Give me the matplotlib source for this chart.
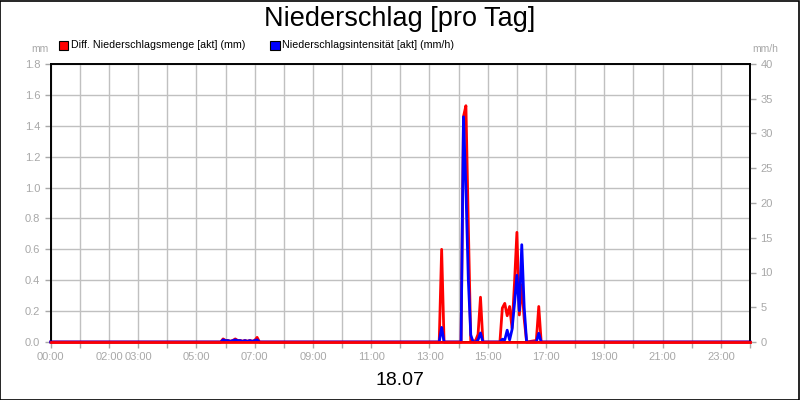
import matplotlib
matplotlib.use("Agg")
import matplotlib.pyplot as plt
from matplotlib.patches import Rectangle

# ---- data ----
title = "Niederschlag [pro Tag]"
date_label = "18.07"
series_names = ["Diff. Niederschlagsmenge [akt] (mm)", "Niederschlagsintensität [akt] (mm/h)"]
unit_left = "mm"
unit_right = "mm/h"

red_times = ["00:00", "05:50", "05:55", "06:00", "06:05", "06:10", "06:15", "06:20", "06:25",
             "06:30", "06:35", "06:40", "06:45", "06:50", "06:55", "07:00", "07:05", "07:10",
             "13:20", "13:25", "13:30",
             "14:05", "14:10", "14:15", "14:20", "14:25",
             "14:35", "14:40", "14:45", "14:50",
             "15:25", "15:30", "15:35", "15:40", "15:45", "15:50", "15:55", "16:00", "16:05",
             "16:10", "16:15", "16:20",
             "16:40", "16:45", "16:50", "24:00"]
red_vals = [0, 0, 0.02, 0.01, 0.01, 0.005, 0.01, 0.02, 0.01,
            0.01, 0.005, 0.01, 0.005, 0.01, 0.005, 0.01, 0.03, 0,
            0, 0.60, 0,
            0, 1.46, 1.53, 0.75, 0,
            0.01, 0.05, 0.29, 0,
            0, 0.22, 0.25, 0.17, 0.23, 0.09, 0.38, 0.71, 0.175,
            0.37, 0.15, 0,
            0.01, 0.23, 0, 0]

blue_times = ["00:00", "05:50", "05:55", "06:00", "06:05", "06:10", "06:15", "06:20", "06:25",
              "06:30", "06:35", "06:40", "06:45", "06:50", "06:55", "07:00", "07:05", "07:10",
              "13:20", "13:25", "13:30",
              "14:05", "14:10", "14:15", "14:20", "14:25", "14:30",
              "14:35", "14:40", "14:45", "14:50",
              "15:25", "15:30", "15:35", "15:40", "15:45", "15:50", "15:55", "16:00", "16:05",
              "16:10", "16:15", "16:20",
              "16:40", "16:45", "16:50", "24:00"]
blue_vals = [0, 0, 0.3, 0.2, 0.2, 0.1, 0.2, 0.3, 0.2,
             0.2, 0.1, 0.2, 0.1, 0.2, 0.1, 0.2, 0.3, 0,
             0, 2.1, 0,
             0, 32.4, 22.0, 8.9, 1.0, 0,
             0, 0.3, 1.3, 0,
             0, 0.4, 0.3, 1.7, 0.3, 1.8, 5.5, 9.6, 4.5,
             14.0, 5.0, 0,
             0, 1.25, 0, 0]

left_ticks = [0.0, 0.2, 0.4, 0.6, 0.8, 1.0, 1.2, 1.4, 1.6, 1.8]
right_ticks = [0, 5, 10, 15, 20, 25, 30, 35, 40]
hour_ticks = list(range(0, 25))
labeled_hours = ["00:00", "02:00", "03:00", "05:00", "07:00", "09:00", "11:00",
                 "13:00", "15:00", "17:00", "19:00", "21:00", "23:00"]


def to_h(s):
    h, m = s.split(":")
    return int(h) + int(m) / 60.0


rx = [to_h(t) for t in red_times]
bx = [to_h(t) for t in blue_times]

plt.rcParams['font.family'] = ['Liberation Sans', 'DejaVu Sans']
gray = "#a8a8a8"
grid_c = "#c0c0c0"

fig = plt.figure(figsize=(8, 4), dpi=100)
fig.patch.set_facecolor("white")
# outer border
fig.patches.append(Rectangle((0.0005, 0.001), 0.998, 0.997, transform=fig.transFigure,
                             fill=False, edgecolor="black", linewidth=1.2))

ax = fig.add_axes([0.0634, 0.145, 0.8741, 0.695])
ax2 = ax.twinx()

ax.set_xlim(0, 24)
ax.set_ylim(0, 1.8)
ax2.set_ylim(0, 40)

ax.set_xticks(hour_ticks)
lab_set = set(labeled_hours)
ax.set_xticklabels([("%02d:00" % h) if ("%02d:00" % h) in lab_set else "" for h in hour_ticks])
ax.set_yticks(left_ticks)
ax.set_yticklabels(["%.1f" % v for v in left_ticks])
ax2.set_yticks(right_ticks)
ax2.set_yticklabels([str(v) for v in right_ticks])

ax.grid(True, color=grid_c, linewidth=1.0)
ax.set_axisbelow(True)

for a in (ax, ax2):
    a.tick_params(colors=gray, labelcolor=gray, labelsize=8, length=4, width=1)
    for s in a.spines.values():
        s.set_color("black")
        s.set_linewidth(1.2)

ax.plot(rx, red_vals, color="#ff0000", linewidth=2.0, clip_on=False, zorder=3)
ax2.plot(bx, blue_vals, color="#0000ff", linewidth=2.0, clip_on=False, zorder=3)
# red baseline drawn over the blue baseline along the bottom
ax2.plot([0, 24], [0, 0], color="#ff0000", linewidth=2.0, clip_on=False, zorder=4)

fig.text(0.5, 0.952, title, ha="center", va="center", fontsize=19.5, color="black")
fig.text(0.5, 0.048, date_label, ha="center", va="center", fontsize=14, color="black")
fig.text(0.05, 0.878, unit_left, ha="center", va="center", fontsize=7.5, color=gray)
fig.text(0.957, 0.878, unit_right, ha="center", va="center", fontsize=7.5, color=gray)

# legend
leg_colors = ["#ff0000", "#0000ff"]
leg_x = [0.0735, 0.338]
for name, c, x0 in zip(series_names, leg_colors, leg_x):
    fig.patches.append(Rectangle((x0, 0.875), 0.0115, 0.023, transform=fig.transFigure,
                                 facecolor=c, edgecolor="black", linewidth=0.8))
    fig.text(x0 + 0.015, 0.887, name, ha="left", va="center", fontsize=7.7, color="black")

fig.savefig("out.png", dpi=100)
